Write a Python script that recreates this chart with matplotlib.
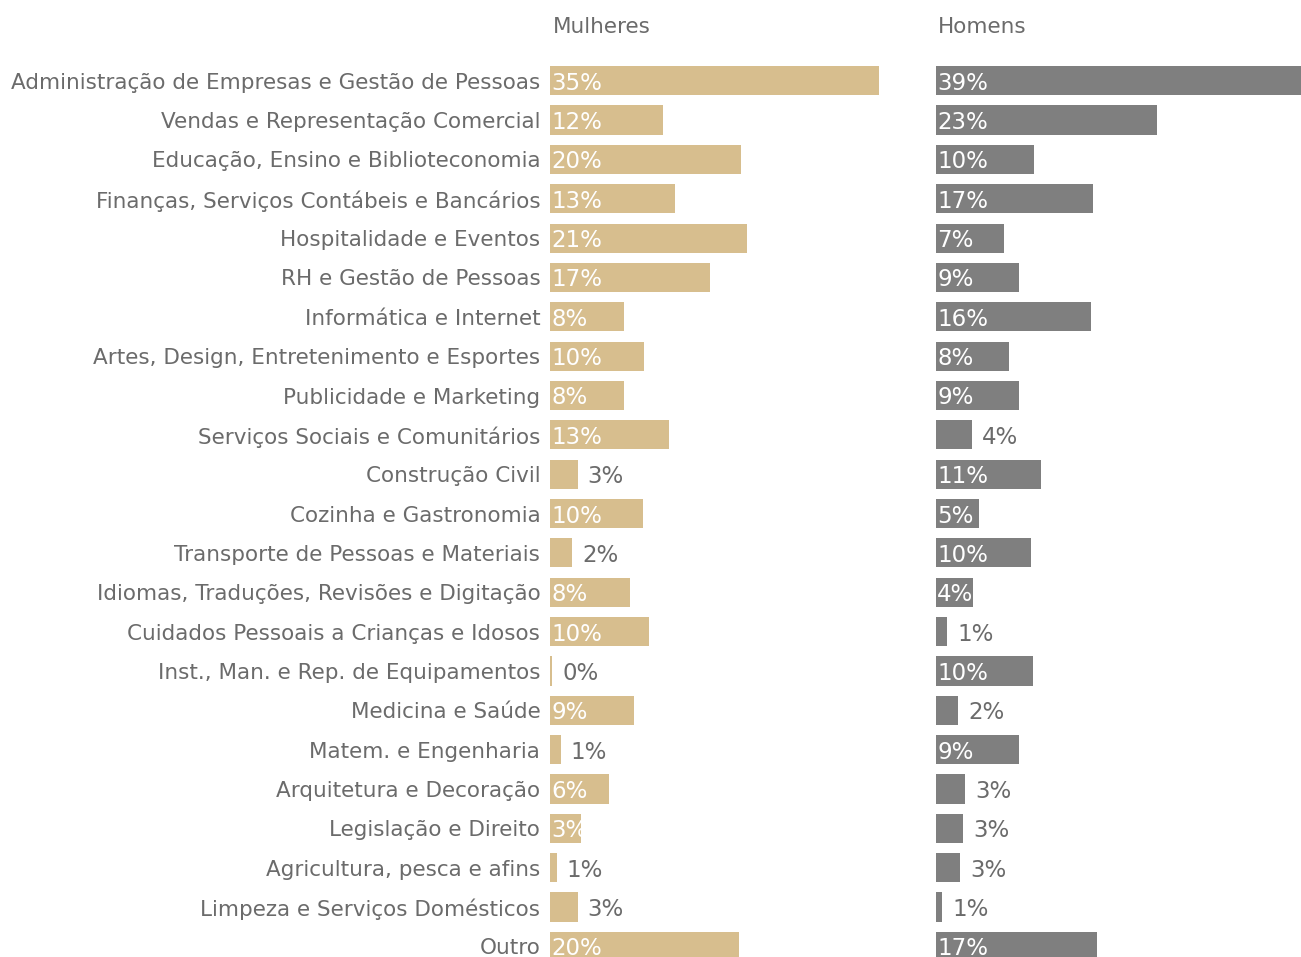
import matplotlib
matplotlib.use("Agg")
import matplotlib.pyplot as plt
from matplotlib.transforms import offset_copy

categories = [
    "Administração de Empresas e Gestão de Pessoas",
    "Vendas e Representação Comercial",
    "Educação, Ensino e Biblioteconomia",
    "Finanças, Serviços Contábeis e Bancários",
    "Hospitalidade e Eventos",
    "RH e Gestão de Pessoas",
    "Informática e Internet",
    "Artes, Design, Entretenimento e Esportes",
    "Publicidade e Marketing",
    "Serviços Sociais e Comunitários",
    "Construção Civil",
    "Cozinha e Gastronomia",
    "Transporte de Pessoas e Materiais",
    "Idiomas, Traduções, Revisões e Digitação",
    "Cuidados Pessoais a Crianças e Idosos",
    "Inst., Man. e Rep. de Equipamentos",
    "Medicina e Saúde",
    "Matem. e Engenharia",
    "Arquitetura e Decoração",
    "Legislação e Direito",
    "Agricultura, pesca e afins",
    "Limpeza e Serviços Domésticos",
    "Outro",
]

mulheres = [34.8, 11.9, 20.2, 13.2, 20.8, 16.9, 7.8, 9.9, 7.8, 12.6, 2.9, 9.8,
            2.3, 8.4, 10.4, 0.2, 8.9, 1.1, 6.2, 3.3, 0.7, 2.9, 20.0]
homens = [39.0, 23.4, 10.4, 16.6, 7.2, 8.8, 16.4, 7.8, 8.8, 3.8, 11.1, 4.6,
          10.1, 3.9, 1.2, 10.3, 2.4, 8.8, 3.1, 2.9, 2.6, 0.7, 17.1]

panel_titles = ["Mulheres", "Homens"]

TAN = "#D7BE8E"
GREY = "#7F7F7F"
TEXT = "#6B6B6B"

W, H = 1301, 957
DPI = 100
fig = plt.figure(figsize=(W / DPI, H / DPI), dpi=DPI)
fig.patch.set_facecolor("white")

px_per_pct = 9.45
row = 39.35
row0 = 80.7
top_px = row0 - row / 2
ybottom = (H - row0) / row

def make_ax(left_px, width_px):
    ax = fig.add_axes([left_px / W, 0, width_px / W, (H - top_px) / H])
    ax.set_xlim(0, width_px / px_per_pct)
    ax.set_ylim(ybottom, -0.5)
    ax.axis("off")
    return ax

axL = make_ax(550.3, 380)
axR = make_ax(935.7, W - 935.7)

n = len(categories)
ys = list(range(n))

fs_lab = 15.5
fs_val = 16.5

def draw_panel(ax, vals, color, thresh):
    ax.barh(ys, vals, height=0.74, color=color, edgecolor="none", clip_on=True)
    t_in = offset_copy(ax.transData, fig=fig, x=1.5, y=-2.5, units="dots")
    t_out = offset_copy(ax.transData, fig=fig, x=10, y=-2.5, units="dots")
    for y, v in zip(ys, vals):
        lab = f"{round(v):d}%"
        if v >= thresh:
            ax.text(0, y, lab, color="white", fontsize=fs_val, va="center",
                    ha="left", transform=t_in, clip_on=False)
        else:
            ax.text(v, y, lab, color=TEXT, fontsize=fs_val, va="center",
                    ha="left", transform=t_out)

draw_panel(axL, mulheres, TAN, 3.0)
draw_panel(axR, homens, GREY, 3.85)

t_cat = offset_copy(axL.transData, fig=fig, x=-10, y=-2, units="dots")
for y, c in zip(ys, categories):
    axL.text(0, y, c, color=TEXT, fontsize=fs_lab, va="center", ha="right",
             transform=t_cat)

fig.text(553 / W, 1 - 27 / H, panel_titles[0], color=TEXT, fontsize=fs_lab,
         ha="left", va="center")
fig.text(938 / W, 1 - 27 / H, panel_titles[1], color=TEXT, fontsize=fs_lab,
         ha="left", va="center")

fig.savefig("out.png", dpi=DPI, facecolor="white")
